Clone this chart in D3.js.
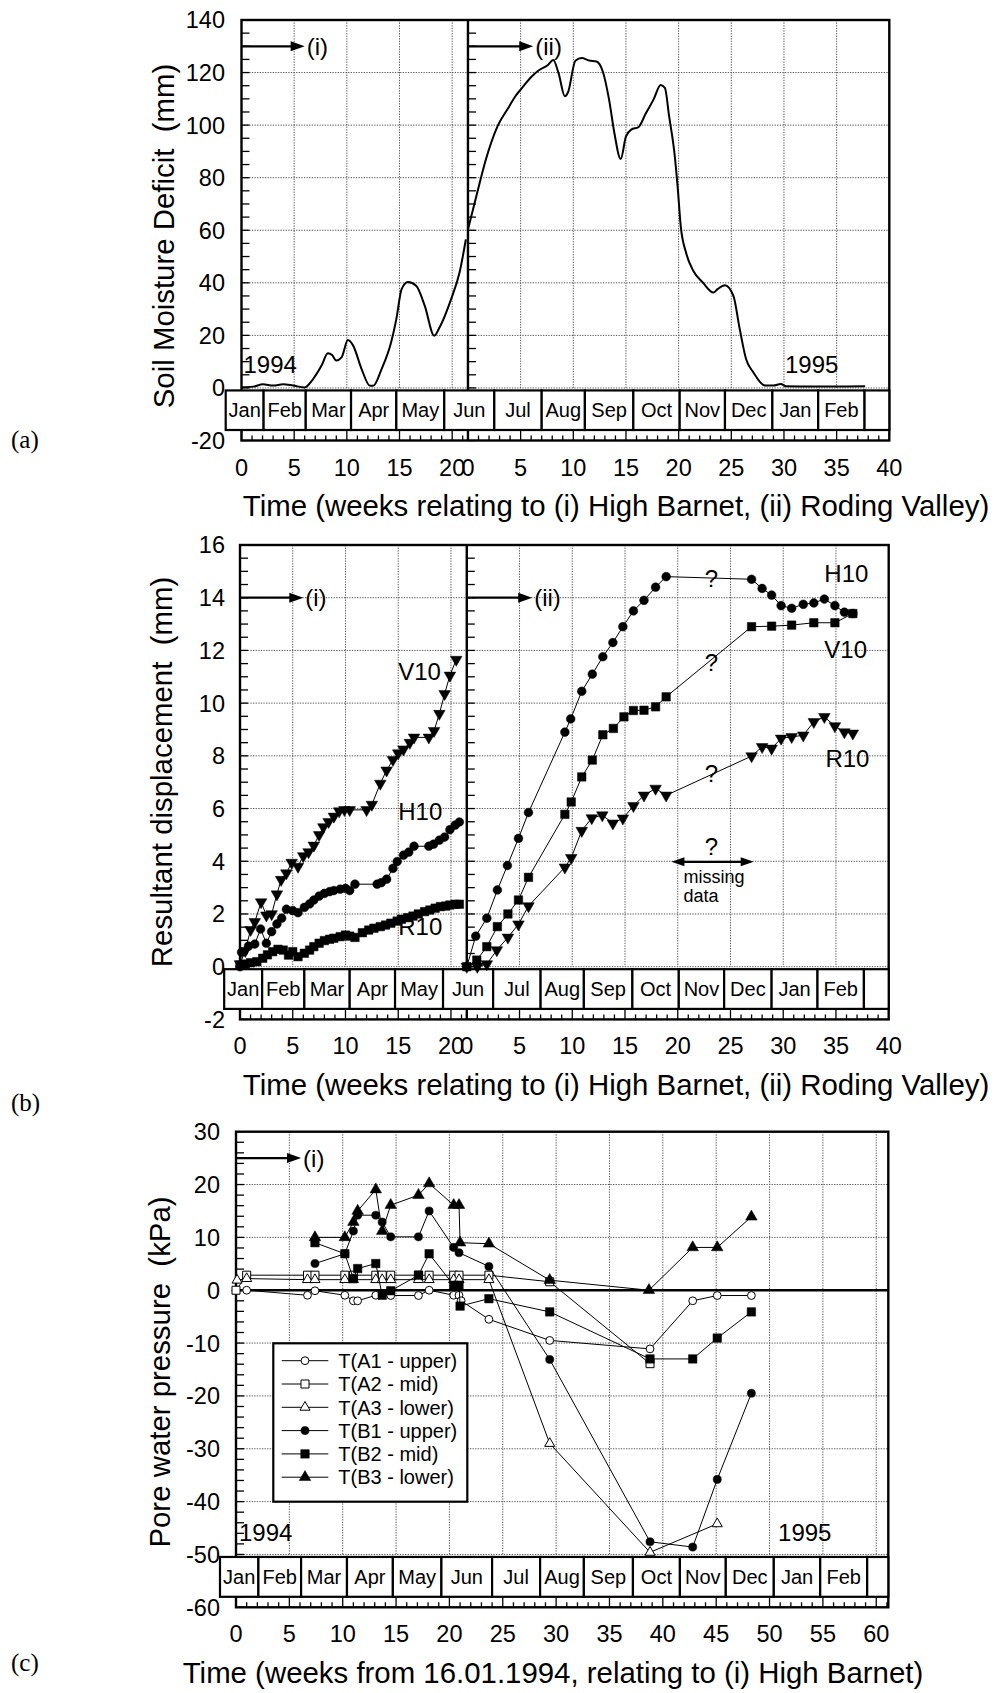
<!DOCTYPE html>
<html>
<head>
<meta charset="utf-8">
<script src="https://cdn.jsdelivr.net/npm/d3@7"></script>
<style>
  body { margin: 0; background: #fff; }
  text { font-family: "Liberation Sans", Arial, Helvetica, sans-serif; fill: #000; }
</style>
</head>
<body>
<script>
// ---------------- data ----------------
// Month strip (cell edges in weeks from 16.01.1994)
const months = ["Jan","Feb","Mar","Apr","May","Jun","Jul","Aug","Sep","Oct","Nov","Dec","Jan","Feb",""];
const monthEdges = [-1.5, 2.1, 6.1, 10.4, 14.7, 19.25, 24.0, 28.5, 32.6, 37.2, 41.6, 45.9, 50.4, 54.75, 59.15];

// Tick labels
const smdTicks  = [-20, 0, 20, 40, 60, 80, 100, 120, 140];
const dispTicks = [-2, 0, 2, 4, 6, 8, 10, 12, 14, 16];
const pwpTicks  = [-60, -50, -40, -30, -20, -10, 0, 10, 20, 30];
const weeksHB   = [0, 5, 10, 15, 20];
const weeksRV   = [0, 5, 10, 15, 20, 25, 30, 35, 40];
const weeksAll  = [0, 5, 10, 15, 20, 25, 30, 35, 40, 45, 50, 55, 60];

// (a) Soil moisture deficit (mm) — [week, value]
const smdHighBarnet = [[0,0.3],[1.1,0.5],[2.05,1.4],[3.0,0.9],[3.95,1.4],[4.9,0.9],[6.0,0.2],[6.8,3.4],[7.6,8.5],[8.2,13.2],[8.6,12.5],[9.0,10.4],[9.5,11.6],[10.1,18.2],[10.6,16.1],[11.4,7.2],[12.2,0.8],[12.5,0.8],[13.3,7.2],[14.2,17.3],[14.7,26.2],[15.2,37.6],[15.8,40.3],[16.6,38.8],[17.4,31.2],[18.3,19.9],[18.8,23.0],[19.9,33.8],[20.7,43.9],[21.3,56.5]];
const smdRodingValley = [[0,60.3],[0.8,73],[1.7,86.9],[2.8,99.5],[3.9,107],[4.5,111],[5.1,114],[6.05,118.5],[6.7,120.8],[7.6,122.9],[8.1,124.8],[8.6,119.8],[9.2,111],[9.5,112.5],[10.2,124.5],[10.8,125.5],[11.5,124.6],[12.2,124.2],[12.8,120.4],[13.4,109.6],[13.9,97],[14.5,87.1],[15.0,95.7],[15.5,98.3],[16.2,99.3],[16.9,104.6],[17.6,109.6],[18.3,115.3],[18.7,114.1],[19.1,103.3],[19.6,89.4],[19.9,76.8],[20.2,61.6],[20.7,51.5],[21.4,44.5],[22.3,40.1],[23.3,36.3],[23.7,37.6],[24.4,39.1],[25.2,35.0],[25.8,22.4],[26.4,11.0],[27.1,5.9],[28.2,0.9],[29.0,0.9],[29.7,1.5],[30.2,0.6],[32.8,0.5],[37.7,0.6]];

// (b) Resultant displacement (mm) — High Barnet
const hbV10 = [[0,0.1],[0.5,0.6],[1.0,1.4],[1.4,1.7],[2.0,2.45],[2.5,1.95],[3.0,2.0],[3.5,2.75],[3.9,3.3],[4.4,3.55],[4.9,3.95],[5.5,3.8],[6.0,4.2],[6.5,4.35],[7.0,4.6],[7.5,5.0],[7.9,5.3],[8.4,5.5],[8.9,5.7],[9.4,5.9],[9.9,5.95],[10.4,5.95],[12.0,5.95],[12.5,6.15],[13.3,6.95],[13.9,7.45],[14.5,7.85],[15.0,8.1],[15.5,8.25],[16.1,8.5],[16.5,8.7],[17.9,8.7],[18.4,8.95],[18.9,9.6],[19.4,10.35],[19.9,11.05],[20.5,11.65]];
const hbH10 = [[0,0],[0.15,0.55],[0.8,0.78],[1.4,0.86],[1.95,1.43],[2.5,0.89],[3.0,1.33],[3.5,1.62],[3.95,1.84],[4.4,2.18],[5.0,2.13],[5.5,2.05],[6.1,2.25],[6.6,2.38],[7.0,2.53],[7.5,2.68],[8.0,2.78],[8.5,2.85],[8.9,2.89],[9.5,2.94],[10.0,2.97],[10.4,2.89],[10.9,3.13],[13.0,3.13],[13.4,3.19],[13.9,3.32],[14.5,3.73],[14.9,3.99],[15.5,4.23],[16.0,4.35],[16.5,4.57],[17.9,4.57],[18.35,4.65],[18.9,4.8],[19.4,4.92],[19.9,5.2],[20.4,5.37],[20.8,5.49]];
const hbR10 = [[0,0.06],[0.5,0.1],[1.0,0.15],[1.6,0.19],[2.15,0.32],[2.6,0.45],[3.1,0.57],[3.6,0.66],[4.1,0.63],[4.6,0.44],[5.0,0.57],[5.5,0.38],[6.1,0.51],[6.6,0.63],[7.0,0.76],[7.5,0.89],[8.0,0.99],[8.5,1.04],[8.9,1.08],[9.5,1.14],[10.0,1.2],[10.4,1.16],[10.9,1.11],[11.6,1.29],[12.2,1.39],[12.7,1.46],[13.3,1.52],[13.8,1.58],[14.3,1.65],[14.9,1.73],[15.3,1.8],[15.9,1.86],[16.4,1.92],[16.9,2.0],[17.5,2.09],[18.0,2.15],[18.5,2.22],[19.0,2.28],[19.5,2.3],[19.9,2.34],[20.4,2.37],[20.8,2.37]];

// (b) Resultant displacement (mm) — Roding Valley
const rvH10 = [[0,0],[0.85,1.16],[1.9,1.84],[2.9,2.91],[3.85,3.84],[4.9,4.87],[5.85,5.85],[9.3,8.9],[9.85,9.4],[10.9,10.45],[11.9,11.1],[12.9,11.76],[13.85,12.3],[14.8,12.9],[15.8,13.5],[16.8,13.9],[17.9,14.4],[18.9,14.8],[27.0,14.7],[28.0,14.35],[28.9,14.1],[29.8,13.7],[30.8,13.6],[31.9,13.75],[32.9,13.8],[33.9,13.95],[34.9,13.7],[35.8,13.45],[36.6,13.4]];
const rvV10 = [[0,0],[0.95,0.25],[1.9,0.76],[2.9,1.52],[3.9,2.0],[4.9,2.53],[5.85,3.39],[9.3,5.78],[9.9,6.25],[10.9,7.2],[11.9,7.84],[12.9,8.8],[13.9,9.04],[14.9,9.48],[15.8,9.72],[16.8,9.73],[17.9,9.86],[18.9,10.24],[27.0,12.9],[28.9,12.92],[30.8,12.96],[32.9,13.05],[34.9,13.05],[36.6,13.4]];
const rvR10 = [[0,0],[1.0,0.0],[1.9,0.1],[2.85,0.63],[3.9,1.11],[4.9,1.61],[5.85,2.3],[9.3,3.77],[9.9,4.13],[10.9,5.16],[11.85,5.64],[12.85,5.75],[13.85,5.44],[14.8,5.63],[15.8,6.1],[16.8,6.5],[17.9,6.76],[18.9,6.5],[27.0,7.99],[28.0,8.34],[28.9,8.28],[29.8,8.66],[30.8,8.72],[31.9,8.78],[32.9,9.29],[33.9,9.48],[34.9,9.13],[35.8,8.9],[36.6,8.85]];

// (c) Pore water pressure (kPa) — High Barnet tensiometers
const pwpA1 = [[0,0],[1.0,0],[6.7,-0.95],[7.4,-0.1],[10.2,-0.95],[11.0,-2.0],[11.4,-2.0],[13.1,-0.95],[14.5,-1.0],[17.1,-1.0],[18.1,0],[20.4,-0.95],[20.9,-0.95],[21.1,-2.0],[23.7,-5.5],[29.4,-9.5],[38.8,-11.1],[42.8,-2.0],[45.1,-1.0],[48.3,-1.0]];
const pwpA2 = [[0,0],[1.0,2.85],[6.7,2.85],[7.4,2.85],[10.2,2.85],[11.0,2.85],[13.1,2.85],[13.7,2.85],[14.5,2.85],[17.1,2.85],[18.1,2.85],[20.4,2.85],[20.9,2.85],[23.7,2.85],[29.4,1.6],[38.8,-13.9]];
const pwpA3 = [[0.1,1.9],[1.0,2.2],[6.7,2.0],[7.4,2.0],[10.2,2.0],[11.0,2.0],[13.1,2.0],[13.7,2.0],[14.5,2.0],[17.1,2.0],[18.1,2.0],[20.4,2.0],[20.9,2.0],[23.7,2.0],[29.4,-29],[38.8,-49.6],[45.1,-44.2]];
const pwpB1 = [[7.4,5.05],[10.2,6.9],[11.0,11.2],[11.4,14.2],[13.1,14.2],[13.7,12.9],[14.5,10.1],[17.1,10.1],[18.1,15.0],[20.4,8.1],[20.9,7.1],[23.7,4.5],[29.4,-13.1],[38.8,-47.6],[42.8,-48.6],[45.1,-35.8],[48.3,-19.5]];
const pwpB2 = [[7.4,9.0],[10.2,6.9],[11.0,2.2],[11.4,4.1],[13.1,5.05],[13.7,-0.95],[14.5,-0.1],[17.1,2.85],[18.1,6.9],[20.4,0.95],[20.9,0.95],[21.0,-3.0],[23.7,-1.6],[29.4,-4.1],[38.8,-13.0],[42.8,-13.0],[45.1,-9.05],[48.3,-4.1]];
const pwpB3 = [[7.4,10.0],[10.2,10.0],[11.0,12.9],[11.4,15.0],[13.1,19.05],[13.7,11.2],[14.5,16.1],[17.1,18.0],[18.1,20.2],[20.4,16.1],[20.9,16.1],[21.0,9.0],[23.7,8.8],[29.4,1.9],[38.7,0],[42.8,8.1],[45.1,8.1],[48.3,13.9]];

const legendNames = ["T(A1 - upper)","T(A2 - mid)","T(A3 - lower)","T(B1 - upper)","T(B2 - mid)","T(B3 - lower)"];

// ---------------- drawing ----------------
const W = 997, H = 1693;
const svg = d3.select("body").append("svg").attr("width", W).attr("height", H);
svg.append("rect").attr("width", W).attr("height", H).attr("fill", "#fff");

const TICK_FONT = 23.5, TITLE_FONT = 29.4;

function buildPanel(p) {
  const g = svg.append("g");
  const y = d3.scaleLinear().domain(p.yDomain).range([p.bottom, p.top]);
  const xg = d3.scaleLinear().domain([0, p.span]).range([p.left, p.right]);
  const subs = p.subs.map(s => Object.assign({}, s, {
    x: d3.scaleLinear().domain([0, s.len]).range([xg(s.offset), xg(s.offset + s.len)])
  }));
  const yBase = y(p.base);
  const bandTop = yBase + 2.5, bandBot = p.bottom - 10.5;

  // grid
  const grid = g.append("g").attr("stroke", "#555").attr("stroke-width", 1)
    .attr("stroke-dasharray", "1.3,1.3").attr("fill", "none");
  p.yTicks.filter(t => t >= p.base && t < p.yDomain[1]).forEach(t => {
    grid.append("line").attr("x1", p.left).attr("x2", p.right).attr("y1", y(t)).attr("y2", y(t));
  });
  subs.forEach(s => s.ticks.filter(t => t > 0).forEach(t => {
    const xx = s.x(t);
    if (xx < p.right - 2) grid.append("line").attr("x1", xx).attr("x2", xx).attr("y1", p.top).attr("y2", yBase);
  }));

  // y minor ticks on left frame and on the divider
  const ax = g.append("g").attr("stroke", "#000").attr("stroke-width", 1.3);
  for (let v = p.yDomain[0]; v <= p.yDomain[1] + 1e-9; v += p.yMinor) {
    ax.append("line").attr("x1", p.left).attr("x2", p.left + 8).attr("y1", y(v)).attr("y2", y(v));
    subs.slice(1).forEach(s => {
      ax.append("line").attr("x1", s.x(0)).attr("x2", s.x(0) + 8).attr("y1", y(v)).attr("y2", y(v));
    });
  }
  // x ticks in the strip under the month band
  subs.forEach(s => {
    for (let w = 0; w <= Math.floor(s.len + 1e-9); w++) {
      const xx = s.x(w);
      if (xx > p.right - 1) continue;
      ax.append("line").attr("x1", xx).attr("x2", xx)
        .attr("y1", p.bottom).attr("y2", p.bottom - (w % 5 === 0 ? 10 : 5));
    }
  });

  // frame
  g.append("rect").attr("x", p.left).attr("y", p.top)
    .attr("width", p.right - p.left).attr("height", p.bottom - p.top)
    .attr("fill", "none").attr("stroke", "#000").attr("stroke-width", 2.4);
  subs.slice(1).forEach(s => {
    g.append("line").attr("x1", s.x(0)).attr("x2", s.x(0)).attr("y1", p.top).attr("y2", p.bottom)
      .attr("stroke", "#000").attr("stroke-width", 2.4);
  });
  if (p.zeroLine) {
    g.append("line").attr("x1", p.left).attr("x2", p.right).attr("y1", y(0)).attr("y2", y(0))
      .attr("stroke", "#000").attr("stroke-width", 2.6);
  }

  // month band
  const band = g.append("g");
  months.forEach((m, i) => {
    const x0 = xg(monthEdges[i]);
    const x1 = i + 1 < monthEdges.length ? xg(monthEdges[i + 1]) : p.right;
    band.append("rect").attr("x", x0).attr("y", bandTop).attr("width", x1 - x0).attr("height", bandBot - bandTop)
      .attr("fill", "#fff").attr("stroke", "#000").attr("stroke-width", 2.2);
    if (m) band.append("text").attr("x", (x0 + x1) / 2).attr("y", (bandTop + bandBot) / 2).attr("dy", "0.36em")
      .attr("text-anchor", "middle").attr("font-size", 20).text(m);
  });

  // tick labels
  p.yTicks.forEach(t => {
    g.append("text").attr("x", p.labelX).attr("y", y(t)).attr("dy", "0.36em")
      .attr("text-anchor", "end").attr("font-size", TICK_FONT).text(t);
  });
  subs.forEach(s => s.ticks.forEach(t => {
    g.append("text").attr("x", s.x(t)).attr("y", p.bottom + 35)
      .attr("text-anchor", "middle").attr("font-size", TICK_FONT).text(t);
  }));

  // titles
  g.append("text").attr("x", p.xTitleX).attr("y", p.bottom + 75.5).attr("text-anchor", "middle")
    .attr("font-size", TITLE_FONT).text(p.xTitle);
  g.append("text").attr("transform", `translate(${p.yTitleX},${p.yTitleY}) rotate(-90)`)
    .attr("text-anchor", "middle").attr("font-size", TITLE_FONT).style("white-space", "pre").text(p.yTitle);

  // panel letter
  g.append("text").attr("x", 11).attr("y", p.letterY).attr("font-size", 25)
    .style("font-family", "'Liberation Serif','Times New Roman',serif").text(p.letter);

  return { g, y, subs, xg };
}

// arrow from an axis line to a site marker
function siteArrow(g, x0, x1, yy, label) {
  g.append("line").attr("x1", x0).attr("x2", x1 - 12).attr("y1", yy).attr("y2", yy)
    .attr("stroke", "#000").attr("stroke-width", 2.2);
  g.append("path").attr("d", `M${x1},${yy} L${x1 - 14},${yy - 5} L${x1 - 14},${yy + 5} Z`).attr("fill", "#000");
  g.append("text").attr("x", x1 + 2).attr("y", yy).attr("dy", "0.36em").attr("font-size", 24).text(label);
}

const mark = {
  circle:   d3.symbol().type(d3.symbolCircle),
  square:   d3.symbol().type(d3.symbolSquare),
  triangle: d3.symbol().type(d3.symbolTriangle)
};

function series(g, data, x, y, opt) {
  const line = d3.line().x(d => x(d[0])).y(d => y(d[1]));
  if (opt.curve) line.curve(opt.curve);
  g.append("path").datum(data).attr("d", line).attr("fill", "none")
    .attr("stroke", "#000").attr("stroke-width", opt.width || 1);
  if (opt.symbol) {
    const sym = mark[opt.symbol].size(opt.size)();
    g.selectAll(null).data(data).enter().append("path").attr("d", sym)
      .attr("transform", d => `translate(${x(d[0])},${y(d[1])})${opt.down ? " rotate(180)" : ""}`)
      .attr("fill", opt.open ? "#fff" : "#000").attr("stroke", "#000").attr("stroke-width", opt.open ? 1 : 0.5);
  }
}

// ---------- panel (a) ----------
const A = buildPanel({
  top: 20, bottom: 440.5, left: 241.5, right: 889.3, span: 61.5,
  yDomain: [-20, 140], yTicks: smdTicks, yMinor: 5, base: 0, labelX: 225,
  subs: [{ offset: 0, len: 21.5, ticks: weeksHB }, { offset: 21.5, len: 40, ticks: weeksRV }],
  xTitle: "Time (weeks relating to (i) High Barnet, (ii) Roding Valley)", xTitleX: 616,
  yTitle: "Soil Moisture Deficit  (mm)", yTitleX: 174, yTitleY: 236,
  letter: "(a)", letterY: 448
});
{
  const [hb, rv] = A.subs;
  series(A.g, smdHighBarnet, hb.x, A.y, { curve: d3.curveMonotoneX, width: 2 });
  series(A.g, smdRodingValley, rv.x, A.y, { curve: d3.curveMonotoneX, width: 2 });
  siteArrow(A.g, hb.x(0), hb.x(6.0), A.y(130), "(i)");
  siteArrow(A.g, rv.x(0), rv.x(6.2), A.y(130), "(ii)");
  A.g.append("text").attr("x", hb.x(0) + 2).attr("y", A.y(0) - 15).attr("font-size", 24).text("1994");
  A.g.append("text").attr("x", rv.x(30.1)).attr("y", A.y(0) - 15).attr("font-size", 24).text("1995");
}

// ---------- panel (b) ----------
const B = buildPanel({
  top: 545, bottom: 1019.4, left: 240, right: 888.7, span: 61.5,
  yDomain: [-2, 16], yTicks: dispTicks, yMinor: 0.5, base: 0, labelX: 225,
  subs: [{ offset: 0, len: 21.5, ticks: weeksHB }, { offset: 21.5, len: 40, ticks: weeksRV }],
  xTitle: "Time (weeks relating to (i) High Barnet, (ii) Roding Valley)", xTitleX: 616,
  yTitle: "Resultant displacement  (mm)", yTitleX: 172, yTitleY: 772,
  letter: "(b)", letterY: 1111
});
{
  const [hb, rv] = B.subs;
  const y = B.y;
  series(B.g, hbV10, hb.x, y, { symbol: "triangle", size: 58, down: true });
  series(B.g, hbH10, hb.x, y, { symbol: "circle", size: 60 });
  series(B.g, hbR10, hb.x, y, { symbol: "square", size: 72 });
  series(B.g, rvH10, rv.x, y, { symbol: "circle", size: 60 });
  series(B.g, rvV10, rv.x, y, { symbol: "square", size: 72 });
  series(B.g, rvR10, rv.x, y, { symbol: "triangle", size: 58, down: true });
  siteArrow(B.g, hb.x(0), hb.x(6.0), y(14), "(i)");
  siteArrow(B.g, rv.x(0), rv.x(6.2), y(14), "(ii)");
  const lab = (x, v, t) => B.g.append("text").attr("x", x).attr("y", y(v)).attr("font-size", 24).text(t);
  lab(hb.x(15.0), 10.88, "V10");
  lab(hb.x(15.0), 5.57, "H10");
  lab(hb.x(15.0), 1.2, "R10");
  lab(rv.x(33.9), 14.61, "H10");
  lab(rv.x(33.9), 11.72, "V10");
  lab(rv.x(34.0), 7.57, "R10");
  const q = (w, v) => B.g.append("text").attr("x", rv.x(w)).attr("y", y(v)).attr("dy", "0.36em")
    .attr("text-anchor", "middle").attr("font-size", 24).text("?");
  q(23.2, 14.75); q(23.2, 11.56); q(23.2, 7.35); q(23.2, 4.55);
  // missing-data span
  const ya = y(3.98), xa0 = rv.x(19.4), xa1 = rv.x(27.2);
  B.g.append("line").attr("x1", xa0 + 10).attr("x2", xa1 - 10).attr("y1", ya).attr("y2", ya)
    .attr("stroke", "#000").attr("stroke-width", 2.2);
  B.g.append("path").attr("d", `M${xa0},${ya} L${xa0 + 13},${ya - 4.5} L${xa0 + 13},${ya + 4.5} Z`).attr("fill", "#000");
  B.g.append("path").attr("d", `M${xa1},${ya} L${xa1 - 13},${ya - 4.5} L${xa1 - 13},${ya + 4.5} Z`).attr("fill", "#000");
  B.g.append("text").attr("x", rv.x(20.55)).attr("y", y(3.17)).attr("font-size", 18).text("missing");
  B.g.append("text").attr("x", rv.x(20.55)).attr("y", y(2.47)).attr("font-size", 18).text("data");
}

// ---------- panel (c) ----------
const C = buildPanel({
  top: 1131.7, bottom: 1607.3, left: 236, right: 888.3, span: 61.13,
  yDomain: [-60, 30], yTicks: pwpTicks, yMinor: 2, base: -50, labelX: 220, zeroLine: true,
  subs: [{ offset: 0, len: 61.13, ticks: weeksAll }],
  xTitle: "Time (weeks from 16.01.1994, relating to (i) High Barnet)", xTitleX: 553,
  yTitle: "Pore water pressure  (kPa)", yTitleX: 170, yTitleY: 1372,
  letter: "(c)", letterY: 1671
});
{
  const x = C.subs[0].x, y = C.y;
  const styles = [
    { symbol: "circle", size: 48, open: true },
    { symbol: "square", size: 64, open: true },
    { symbol: "triangle", size: 44, open: true },
    { symbol: "circle", size: 52 },
    { symbol: "square", size: 72 },
    { symbol: "triangle", size: 58 }
  ];
  [pwpA1, pwpA2, pwpA3, pwpB1, pwpB2, pwpB3].forEach((d, i) => series(C.g, d, x, y, styles[i]));
  siteArrow(C.g, x(0), x(6.1), y(25), "(i)");
  C.g.append("text").attr("x", x(0) + 3).attr("y", y(-50) - 13).attr("font-size", 24).text("1994");
  C.g.append("text").attr("x", x(50.8)).attr("y", y(-50) - 13).attr("font-size", 24).text("1995");

  // legend
  const lg = C.g.append("g");
  lg.append("rect").attr("x", 273.3).attr("y", 1343.3).attr("width", 194).attr("height", 158.4)
    .attr("fill", "#fff").attr("stroke", "#000").attr("stroke-width", 2.2);
  legendNames.forEach((name, i) => {
    const yy = 1360.7 + i * 23.3;
    lg.append("line").attr("x1", 281.7).attr("x2", 328.3).attr("y1", yy).attr("y2", yy)
      .attr("stroke", "#000").attr("stroke-width", 1);
    const st = styles[i];
    lg.append("path").attr("d", mark[st.symbol].size(st.size)())
      .attr("transform", `translate(305,${yy})`)
      .attr("fill", st.open ? "#fff" : "#000").attr("stroke", "#000").attr("stroke-width", st.open ? 1 : 0.5);
    lg.append("text").attr("x", 338.3).attr("y", yy).attr("dy", "0.36em").attr("font-size", 20).text(name);
  });
}
</script>
</body>
</html>
